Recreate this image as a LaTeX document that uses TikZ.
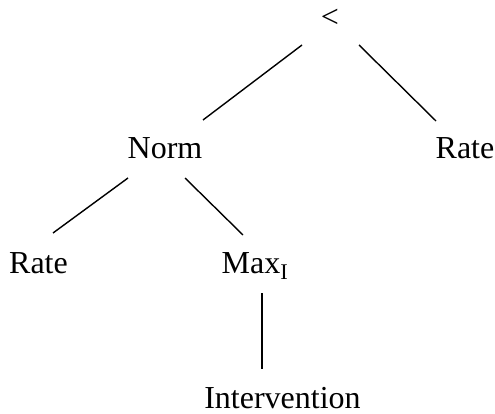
\documentclass[tikz,border=0pt]{standalone}
\usepackage{fontspec}
\setmainfont{Liberation Serif}
\begin{document}
\begin{tikzpicture}[x=1pt,y=-1pt,
  lbl/.style={inner sep=0pt,anchor=base,font=\fontsize{32}{38}\selectfont},
  edge/.style={line width=1.4pt}]
\useasboundingbox (0,0) rectangle (495,414);
\node[lbl,anchor=center] (lt) at (330,18) {<};
\node[lbl] (norm) at (165,159) {Norm};
\node[lbl] (rateR) at (465,159) {Rate};
\node[lbl] (rateL) at (38.5,273) {Rate};
\node[lbl] (max) at (255,273) {Max\textsubscript{I}};
\node[lbl] (interv) at (282.5,408) {Intervention};
\draw[edge] ([shift={(-28,27)}]lt.center) -- ([shift={(38,-39)}]norm.base);
\draw[edge] ([shift={(29,27)}]lt.center) -- ([shift={(-29,-38)}]rateR.base);
\draw[edge] ([shift={(-37,19)}]norm.base) -- ([shift={(14.5,-40)}]rateL.base);
\draw[edge] ([shift={(20,19)}]norm.base) -- ([shift={(-12,-38)}]max.base);
\draw[edge] ([shift={(7,20)}]max.base) -- ([shift={(-20.5,-39)}]interv.base);
\end{tikzpicture}
\end{document}
